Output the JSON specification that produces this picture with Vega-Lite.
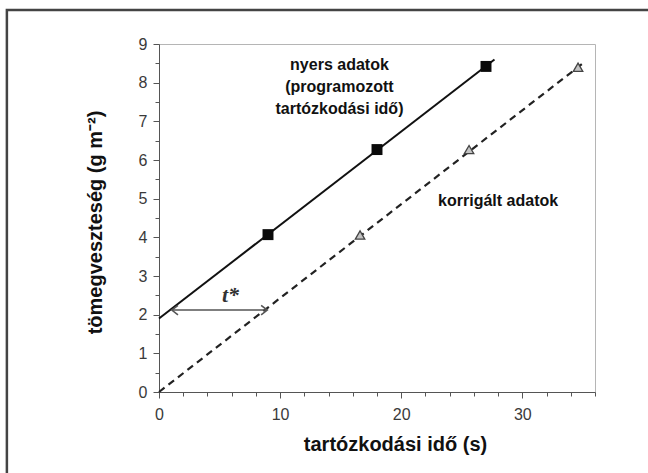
{
  "$schema": "https://vega.github.io/schema/vega-lite/v6.json",
  "width": 436,
  "height": 348,
  "autosize": {"type": "none"},
  "padding": {"left": 159, "top": 44, "right": 53, "bottom": 81},
  "background": "#ffffff",
  "config": {
    "view": {"stroke": "#b5b5b5", "strokeWidth": 1},
    "axis": {
      "domainColor": "#555555",
      "tickColor": "#555555",
      "labelColor": "#3a3a3a",
      "labelFont": "Liberation Sans",
      "labelFontSize": 16,
      "titleFont": "Liberation Sans",
      "titleFontSize": 20,
      "titleFontWeight": "bold",
      "titleColor": "#111111",
      "grid": false
    }
  },
  "datasets": {
    "frame": [{"x1": -12.56, "x2": 45, "y1": 9.88, "y2": -3}],
    "raw": [
      {"t": 9, "m": 4.07},
      {"t": 18, "m": 6.27},
      {"t": 27, "m": 8.42}
    ],
    "corrected": [
      {"t": 16.6, "m": 4.06},
      {"t": 25.6, "m": 6.27},
      {"t": 34.6, "m": 8.4}
    ],
    "rawline": [{"t": 0, "m": 1.9}, {"t": 27.7, "m": 8.6}],
    "corrline": [{"t": 0, "m": 0}, {"t": 35.0, "m": 8.5}],
    "arrow": [{"x1": 1.1, "x2": 8.9, "y": 2.12}],
    "heads": [
      {"x": 1.45, "y": 2.12, "dir": "left"},
      {"x": 8.55, "y": 2.12, "dir": "right"}
    ],
    "labels": [
      {"x": 14.9, "y": 8.33, "txt": "nyers adatok"},
      {"x": 14.9, "y": 7.76, "txt": "(programozott"},
      {"x": 14.9, "y": 7.19, "txt": "tartózkodási idő)"},
      {"x": 28.0, "y": 4.81, "txt": "korrigált adatok"}
    ],
    "tstar": [{"x": 5.9, "y": 2.5, "txt": "t*"}]
  },
  "encoding": {
    "x": {
      "field": "t",
      "type": "quantitative",
      "scale": {"domain": [0, 36], "nice": false, "zero": false},
      "axis": {
        "title": "tartózkodási idő (s)",
        "values": [0, 2, 4, 6, 8, 10, 12, 14, 16, 18, 20, 22, 24, 26, 28, 30, 32, 34, 36],
        "labelExpr": "datum.value % 10 == 0 ? format(datum.value, 'd') : ''",
        "tickSize": {"condition": {"test": "datum.value % 10 == 0", "value": 6}, "value": 4},
        "labelPadding": 8,
        "labelFlush": false,
        "titleX": 236,
        "titleY": 52,
        "titleBaseline": "middle",
        "titleAnchor": "middle"
      }
    },
    "y": {
      "field": "m",
      "type": "quantitative",
      "scale": {"domain": [0, 9], "nice": false, "zero": false},
      "axis": {
        "title": "tömegveszteség (g m⁻²)",
        "values": [0, 0.5, 1, 1.5, 2, 2.5, 3, 3.5, 4, 4.5, 5, 5.5, 6, 6.5, 7, 7.5, 8, 8.5, 9],
        "labelExpr": "datum.value % 1 == 0 ? format(datum.value, 'd') : ''",
        "tickSize": {"condition": {"test": "datum.value % 1 == 0", "value": 6}, "value": 4},
        "labelPadding": 6,
        "labelFlush": false,
        "titleX": -64,
        "titleY": 178,
        "titleBaseline": "middle",
        "titleAnchor": "middle",
        "titleAngle": -90
      }
    }
  },
  "layer": [
    {
      "data": {"name": "frame"},
      "mark": {"type": "rect", "filled": false, "stroke": "#444444", "strokeWidth": 2.5, "clip": false},
      "encoding": {
        "x": {"field": "x1", "type": "quantitative"},
        "x2": {"field": "x2"},
        "y": {"field": "y1", "type": "quantitative"},
        "y2": {"field": "y2"}
      }
    },
    {
      "data": {"name": "rawline"},
      "mark": {"type": "line", "color": "#111111", "strokeWidth": 2}
    },
    {
      "data": {"name": "corrline"},
      "mark": {"type": "line", "color": "#222222", "strokeWidth": 2.2, "strokeDash": [7, 5]}
    },
    {
      "data": {"name": "raw"},
      "mark": {"type": "point", "shape": "square", "filled": true, "color": "#0a0a0a", "size": 120, "opacity": 1}
    },
    {
      "data": {"name": "corrected"},
      "mark": {"type": "point", "shape": "triangle-up", "filled": true, "fill": "#c4c4c4", "stroke": "#444444", "strokeWidth": 1.3, "size": 90, "opacity": 1}
    },
    {
      "data": {"name": "arrow"},
      "mark": {"type": "rule", "color": "#555555", "strokeWidth": 1.6},
      "encoding": {
        "x": {"field": "x1", "type": "quantitative"},
        "x2": {"field": "x2"},
        "y": {"field": "y", "type": "quantitative"}
      }
    },
    {
      "data": {"name": "heads"},
      "mark": {"type": "point", "filled": false, "stroke": "#555555", "strokeWidth": 1.6, "size": 90, "opacity": 1},
      "encoding": {
        "x": {"field": "x", "type": "quantitative"},
        "y": {"field": "y", "type": "quantitative"},
        "shape": {
          "field": "dir",
          "type": "nominal",
          "scale": {"domain": ["left", "right"], "range": ["M 0.3 -1 L -1 0 L 0.3 1", "M -0.3 -1 L 1 0 L -0.3 1"]},
          "legend": null
        }
      }
    },
    {
      "data": {"name": "labels"},
      "mark": {"type": "text", "font": "Liberation Sans", "fontSize": 16, "fontWeight": "bold", "color": "#111111", "align": "center", "baseline": "alphabetic"},
      "encoding": {
        "x": {"field": "x", "type": "quantitative"},
        "y": {"field": "y", "type": "quantitative"},
        "text": {"field": "txt"}
      }
    },
    {
      "data": {"name": "tstar"},
      "mark": {"type": "text", "font": "Liberation Serif", "fontSize": 22, "fontWeight": "bold", "fontStyle": "italic", "color": "#333333", "align": "center", "baseline": "middle"},
      "encoding": {
        "x": {"field": "x", "type": "quantitative"},
        "y": {"field": "y", "type": "quantitative"},
        "text": {"field": "txt"}
      }
    }
  ]
}
